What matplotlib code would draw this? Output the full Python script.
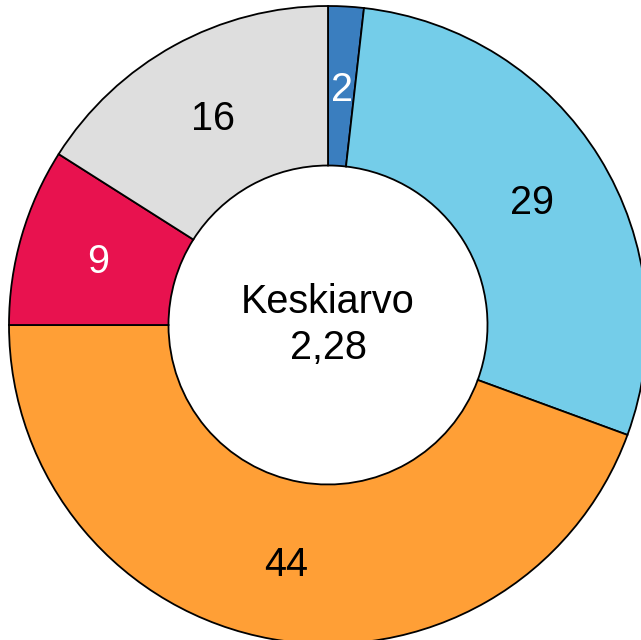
import matplotlib.pyplot as plt

# shares; labels are the rounded percentages shown
values = [1.8, 28.8, 44.4, 9.0, 16.0]
labels = ['2', '29', '44', '9', '16']
colors = ['#3a7ebf', '#74cde9', '#ff9f36', '#e8124f', '#dedede']
label_colors = ['white', 'black', 'black', 'white', 'black']
center_label = 'Keskiarvo\n2,28'

plt.rcParams['font.family'] = ['Liberation Sans', 'DejaVu Sans']

fig = plt.figure(figsize=(6.41, 6.40), dpi=100)
ax = fig.add_axes([0, 0, 1, 1])

wedges, texts = ax.pie(values, colors=colors, startangle=90, counterclock=False,
                       radius=1.0, labels=labels, labeldistance=0.75,
                       wedgeprops=dict(width=0.5, edgecolor='black', linewidth=1.3),
                       textprops=dict(fontsize=28.5))
for t, c in zip(texts, label_colors):
    t.set_color(c)
    t.set_ha('center')
    t.set_va('center_baseline')

ax.text(0, 0, center_label, ha='center', va='center', fontsize=28.5, linespacing=1.28)

# centre at pixel (328, 325), radius ~319 px
s = 319.0
ax.set_xlim(-328 / s, (641 - 328) / s)
ax.set_ylim(-(640 - 325) / s, 325 / s)
ax.set_aspect('auto')
ax.axis('off')

fig.savefig('out.png', dpi=100)
